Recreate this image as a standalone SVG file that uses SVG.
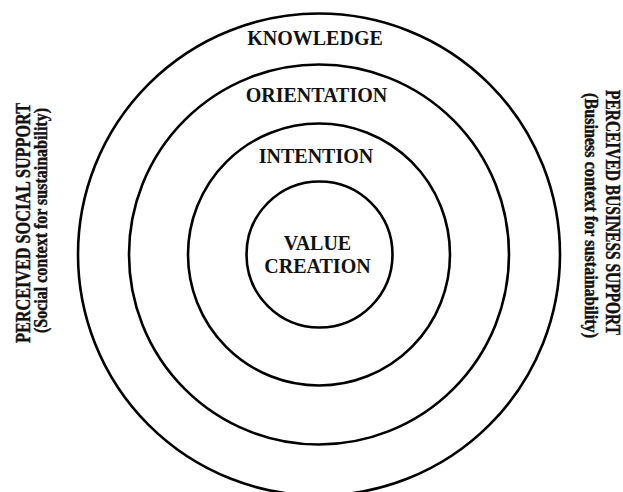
<svg xmlns="http://www.w3.org/2000/svg" width="623" height="492" viewBox="0 0 623 492">
<style>
.ring{fill:none;stroke:#000;stroke-width:2.6}
.lbl{font-family:"Liberation Serif","Times New Roman",serif;font-weight:bold;font-size:20px;fill:#111;text-anchor:middle}
.side{font-family:"Liberation Serif","Times New Roman",serif;font-weight:bold;fill:#111;stroke:#111;stroke-width:0.45;text-anchor:middle}
</style>
<rect width="623" height="492" fill="#fff"/>
<g id="knowledge">
<circle class="ring" cx="319" cy="254.5" r="241"/>
<text class="lbl" x="315" y="45">KNOWLEDGE</text>
</g>
<g id="orientation">
<circle class="ring" cx="319" cy="254.5" r="190"/>
<text class="lbl" x="316.5" y="102">ORIENTATION</text>
</g>
<g id="intention">
<circle class="ring" cx="319" cy="254.5" r="131"/>
<text class="lbl" x="316" y="163">INTENTION</text>
</g>
<g id="value-creation">
<circle class="ring" cx="319.5" cy="254.5" r="73"/>
<text class="lbl" x="317.5" y="250">VALUE</text>
<text class="lbl" x="317.5" y="273">CREATION</text>
</g>
<g id="social-support">
<text class="side" font-size="20" transform="translate(30,223) rotate(-90)" textLength="240" lengthAdjust="spacingAndGlyphs">PERCEIVED SOCIAL SUPPORT</text>
<text class="side" font-size="18" transform="translate(46.5,220.5) rotate(-90)" textLength="225" lengthAdjust="spacingAndGlyphs">(Social context for sustainability)</text>
</g>
<g id="business-support">
<text class="side" font-size="20" transform="translate(605.5,212.5) rotate(90)" textLength="245" lengthAdjust="spacingAndGlyphs">PERCEIVED BUSINESS SUPPORT</text>
<text class="side" font-size="18" transform="translate(585,215.5) rotate(90)" textLength="245" lengthAdjust="spacingAndGlyphs">(Business context for sustainability)</text>
</g>
<g id="connectors"></g>
</svg>
